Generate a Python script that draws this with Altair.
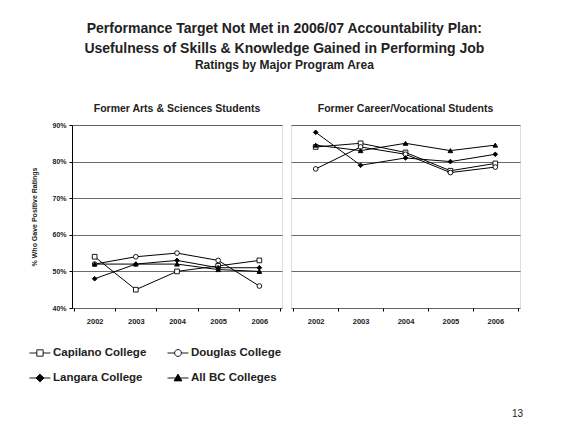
import altair as alt
import pandas as pd

years = ["2002", "2003", "2004", "2005", "2006"]
colleges = ["Capilano College", "Douglas College", "Langara College", "All BC Colleges"]

# Former Arts & Sciences Students (% positive)
arts_capilano = [54, 45, 50, 51.5, 53]
arts_douglas = [52, 54, 55, 53, 46]
arts_langara = [48, 52, 53, 51, 51]
arts_allbc = [52, 52, 52, 50.5, 50]

# Former Career/Vocational Students (% positive)
car_capilano = [84, 85, 82.5, 77.5, 79.5]
car_douglas = [78, 84, 82, 77, 78.5]
car_langara = [88, 79, 81, 80, 82]
car_allbc = [84.5, 83, 85, 83, 84.5]

y_ticks = [0.4, 0.5, 0.6, 0.7, 0.8, 0.9]

legend_col = [0, 1, 0, 1]
legend_row = [0, 0, 1, 1]

FONT = "Liberation Sans"


def panel_df(series):
    rows = []
    for c, vals in zip(colleges, series):
        for yr, v in zip(years, vals):
            rows.append({"Year": yr, "College": c, "Value": v / 100})
    return pd.DataFrame(rows)


shape_scale = alt.Scale(domain=colleges, range=["square", "circle", "diamond", "triangle-up"])
fill_scale = alt.Scale(domain=colleges, range=["white", "white", "black", "black"])


def panel(df, title, width, show_y, title_offset):
    if show_y:
        yaxis = alt.Axis(values=y_ticks, format=".0%", title="% Who Gave Positive Ratings",
                         labelFontSize=7, labelFontWeight="bold", titleFontSize=7,
                         titleFontWeight="bold", titlePadding=14, tickSize=3,
                         labelPadding=3, grid=True, gridColor="#444", gridWidth=0.8,
                         domainColor="black", tickColor="black", labelColor="#222",
                         titleColor="#222")
    else:
        yaxis = alt.Axis(values=y_ticks, title=None, labels=False, ticks=False, domain=False,
                         grid=True, gridColor="#444", gridWidth=0.8)
    base = alt.Chart(df).encode(
        x=alt.X("Year:O", sort=years,
                scale=alt.Scale(type="band", paddingInner=0, paddingOuter=0.05),
                axis=alt.Axis(title=None, labelAngle=0, tickBand="extent", tickSize=3,
                              labelFontSize=7.5, labelFontWeight="bold", labelPadding=6,
                              domain=False, grid=False, tickColor="black", labelColor="#222")),
        y=alt.Y("Value:Q", scale=alt.Scale(domain=[0.4, 0.9], nice=False), axis=yaxis),
    )
    lines = base.mark_line(color="black", strokeWidth=1).encode(detail="College:N")
    pts = base.mark_point(filled=True, stroke="black", strokeWidth=0.9, size=22, opacity=1).encode(
        shape=alt.Shape("College:N", scale=shape_scale, legend=None),
        fill=alt.Fill("College:N", scale=fill_scale, legend=None),
    )
    return alt.layer(lines, pts).properties(
        width=width, height=183,
        title=alt.TitleParams(title, fontSize=10.5, fontWeight="bold", font=FONT,
                              offset=title_offset, color="#222"),
    )


left = panel(panel_df([arts_capilano, arts_douglas, arts_langara, arts_allbc]),
             "Former Arts & Sciences Students", 210, True, 7)
right = panel(panel_df([car_capilano, car_douglas, car_langara, car_allbc]),
              "Former Career/Vocational Students", 229, False, 11)

top = alt.hconcat(left, right, spacing=7)

# legend (line + marker symbols)
leg_df = pd.DataFrame({"College": colleges, "col": legend_col, "row": legend_row})
leg_paths = [
    "M-2,0H-0.6M0.6,0H2M-0.6,-0.6H0.6V0.6H-0.6Z",
    "M-2,0H-0.65M0.65,0H2M-0.65,0A0.65,0.65 0 1,0 0.65,0A0.65,0.65 0 1,0 -0.65,0Z",
    "M-2,0H2M-0.75,0L0,-0.75L0.75,0L0,0.75Z",
    "M-2,0H2M-0.75,0.55L0,-0.75L0.75,0.55Z",
]
leg_fill = alt.Scale(domain=colleges, range=["white", "white", "black", "black"])
leg_base = alt.Chart(leg_df).encode(
    x=alt.X("col:Q", scale=alt.Scale(domain=[0.232, 3.5], nice=False, zero=False), axis=None),
    y=alt.Y("row:O", scale=alt.Scale(type="point", padding=0), axis=None),
)
leg_sym = leg_base.mark_point(filled=True, stroke="black", strokeWidth=0.9, size=110, opacity=1,
                              clip=False).encode(
    shape=alt.Shape("College:N", scale=alt.Scale(domain=colleges, range=leg_paths), legend=None),
    fill=alt.Fill("College:N", scale=leg_fill, legend=None),
)
leg_txt = leg_base.mark_text(align="left", dx=13, fontSize=11.5, fontWeight="bold", font=FONT,
                             color="#222").encode(text="College:N")
legend_chart = alt.layer(leg_sym, leg_txt).properties(
    width=451, height=25,
    view=alt.ViewBackground(strokeOpacity=0),
    title=alt.TitleParams("13", orient="bottom", anchor="end", fontSize=10, fontWeight="normal",
                          font=FONT, offset=25, color="#222"),
).resolve_scale(shape="independent", fill="independent")

chart = alt.vconcat(top, legend_chart, spacing=22).properties(
    title=alt.TitleParams(
        ["Performance Target Not Met in 2006/07 Accountability Plan:",
         "Usefulness of Skills & Knowledge Gained in Performing Job"],
        subtitle="Ratings by Major Program Area",
        fontSize=14, fontWeight="bold", font=FONT, lineHeight=20, color="#222",
        subtitleFontSize=12, subtitleFontWeight="bold", subtitleFont=FONT,
        subtitleColor="#222", subtitlePadding=4, anchor="middle", offset=32, dx=9,
    ),
    padding={"left": 19, "top": 14, "right": 5, "bottom": 5},
).resolve_scale(shape="independent", fill="independent").configure_view(
    stroke="black", strokeWidth=1).configure(font=FONT, background="white")

chart.save("out.html", embed_options={"renderer": "svg", "actions": False})
